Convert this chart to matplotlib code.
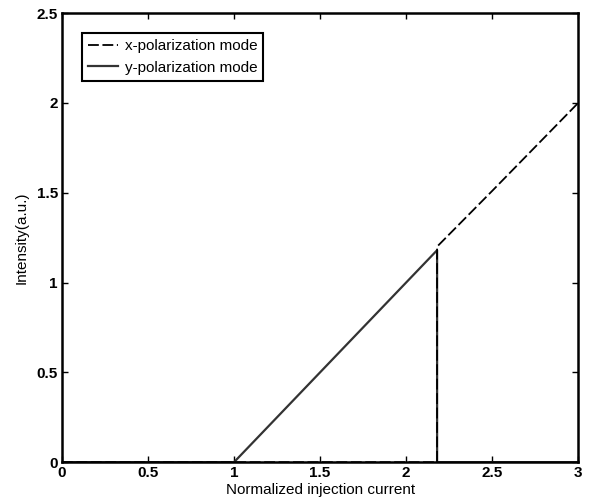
import matplotlib
matplotlib.use("Agg")
import matplotlib.pyplot as plt

# normalized injection current and mode intensities
x_current = [0.0, 2.18, 2.18, 2.5, 3.0]
x_intensity = [0.0, 0.0, 1.20, 1.51, 2.00]

y_current = [0.0, 1.0, 1.5, 2.0, 2.18, 2.18, 3.0]
y_intensity = [0.0, 0.0, 0.50, 1.00, 1.18, 0.0, 0.0]

xticks = [0, 0.5, 1, 1.5, 2, 2.5, 3]
xticklabels = ['0', '0.5', '1', '1.5', '2', '2.5', '3']
yticks = [0, 0.5, 1, 1.5, 2, 2.5]
yticklabels = ['0', '0.5', '1', '1.5', '2', '2.5']

plt.rcParams['font.family'] = ['Liberation Sans', 'DejaVu Sans']

fig = plt.figure(figsize=(5.9, 5.04), dpi=100)
ax = fig.add_axes([0.105, 0.083, 0.875, 0.891])

ax.plot(y_current, y_intensity, color='#333333', lw=1.6, label='y-polarization mode', zorder=2)
ax.plot(x_current, x_intensity, color='black', lw=1.3, ls=(0, (6, 2)),
        label='x-polarization mode', zorder=3)

ax.set_xlim(0, 3)
ax.set_ylim(0, 2.5)
ax.set_xticks(xticks)
ax.set_xticklabels(xticklabels, fontweight='bold', fontsize=11)
ax.set_yticks(yticks)
ax.set_yticklabels(yticklabels, fontweight='bold', fontsize=11)
ax.tick_params(direction='in', length=4, width=1, top=True, right=True, pad=3)
for s in ax.spines.values():
    s.set_linewidth(1.8)

ax.set_xlabel('Normalized injection current', fontsize=11, labelpad=2)
ax.set_ylabel('Intensity(a.u.)', fontsize=11, labelpad=6)

h, l = ax.get_legend_handles_labels()
leg = ax.legend(h[::-1], l[::-1], loc='upper left', fontsize=11, fancybox=False,
                framealpha=1, edgecolor='black', handlelength=2.0, handletextpad=0.4,
                borderaxespad=1.3, bbox_to_anchor=(0.0, 1.0))
leg.get_frame().set_linewidth(1.5)

fig.savefig('out.png', dpi=100)
